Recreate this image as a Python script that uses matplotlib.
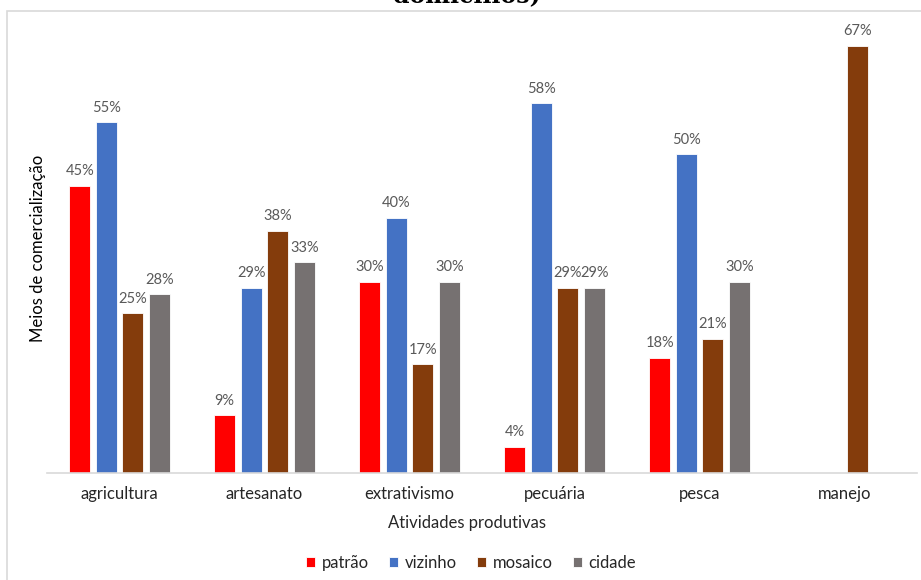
import numpy as np
import matplotlib.pyplot as plt
from matplotlib.patches import Rectangle

# atividades produtivas x meios de comercialização (%)
atividades = ['agricultura', 'artesanato', 'extrativismo', 'pecuária', 'pesca', 'manejo']
patrao = [45, 9, 30, 4, 18, 0]
vizinho = [55, 29, 40, 58, 50, 0]
mosaico = [25, 38, 17, 29, 21, 67]
cidade = [28, 33, 30, 29, 30, 0]

series = [('patrão', patrao, '#FF0000'),
          ('vizinho', vizinho, '#4472C4'),
          ('mosaico', mosaico, '#843C0C'),
          ('cidade', cidade, '#767171')]

plt.rcParams['font.family'] = ['Lato', 'DejaVu Sans']

W, H = 921, 580
fig = plt.figure(figsize=(W / 100, H / 100), dpi=100)

# moldura do gráfico
fig.patches.append(Rectangle((7 / W, -0.1), 1.2, 1.1 - 11 / H, transform=fig.transFigure,
                             fill=False, edgecolor='#D9D9D9', linewidth=1.2))

# título cortado no topo
fig.text(467 / W, 1 - 3 / H, 'domicílios)', ha='center', va='baseline',
         family='DejaVu Serif', fontweight='bold', fontsize=17)

left, right, base, top = 47, 917, 472.5, 20
ax = fig.add_axes([left / W, 1 - base / H, (right - left) / W, (base - top) / H])

x = np.arange(len(atividades))
step = 0.183
largura = 0.145
for i, (nome, vals, cor) in enumerate(series):
    pos = x + (i - 1.5) * step
    bars = ax.bar(pos, vals, width=largura, color=cor, edgecolor='white', linewidth=0.6, label=nome)
    for b, v in zip(bars, vals):
        if v > 0:
            ax.text(b.get_x() + b.get_width() / 2, v + 1.2, f'{v}%', ha='center', va='bottom',
                    fontsize=10.5, color='#595959')

ax.set_xlim(-0.5, len(atividades) - 0.5)
ax.set_ylim(0, (base - top) / 6.365)
ax.set_yticks([])
ax.set_xticks(x)
ax.set_xticklabels(atividades, fontsize=12, color='#262626')
ax.tick_params(axis='x', length=0, pad=10)
for s in ['top', 'right', 'left']:
    ax.spines[s].set_visible(False)
ax.spines['bottom'].set_color('#D9D9D9')
ax.spines['bottom'].set_linewidth(1.2)

fig.text(38 / W, 1 - 248 / H, 'Meios de comercialização', rotation=90, ha='center', va='center',
         fontsize=12, color='#000000')
fig.text(467 / W, 1 - 523 / H, 'Atividades produtivas', ha='center', va='center',
         fontsize=12, color='#262626')

fig.legend(loc='center', bbox_to_anchor=(471 / W, 1 - 563 / H), ncol=4, frameon=False,
           fontsize=12, handlelength=0.55, handleheight=0.55, handletextpad=0.4,
           columnspacing=1.2, labelcolor='#262626')

fig.savefig('out.png', dpi=100)
